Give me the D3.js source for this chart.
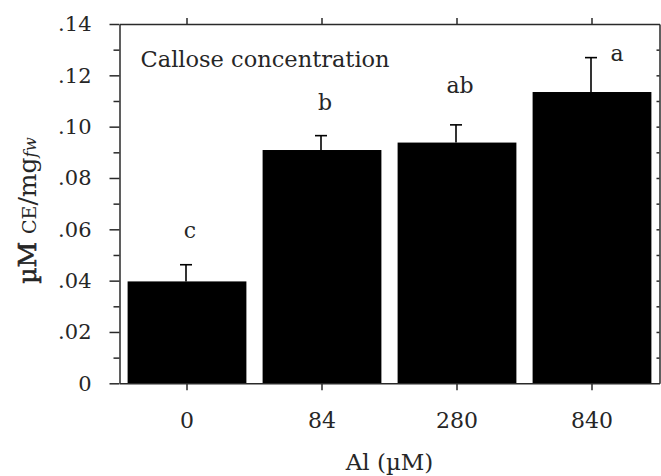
<!DOCTYPE html>
<html>
<head>
<meta charset="utf-8">
<script src="https://cdn.jsdelivr.net/npm/d3@7"></script>
<style>
  body { margin: 0; background: #fff; }
  text { font-family: "DejaVu Serif", serif; fill: #262626; }
</style>
</head>
<body>
<div id="chart"></div>
<script>
// 数据：Al 处理浓度与胼胝质含量（均值 + 误差）
const categories = ['0', '84', '280', '840'];
const means = [0.0397, 0.0909, 0.0938, 0.1135];
const errors = [0.0065, 0.0056, 0.0069, 0.0134];
// 显著性字母及其基线所在的数值高度
const letters = ['c', 'b', 'ab', 'a'];
const letterAt = [0.0567, 0.1065, 0.1130, 0.1256];
// y 轴刻度
const yMajor = [0, 0.02, 0.04, 0.06, 0.08, 0.10, 0.12, 0.14];
const yLabels = ['0', '.02', '.04', '.06', '.08', '.10', '.12', '.14'];
const yMinor = [0.01, 0.03, 0.05, 0.07, 0.09, 0.11, 0.13];
const yAll = [0.01, 0.02, 0.03, 0.04, 0.05, 0.06, 0.07, 0.08, 0.09, 0.10, 0.11, 0.12, 0.13];

const W = 661, H = 476;
const margin = { top: 24, right: 1.5, bottom: 92.7, left: 119.5 };
const width = W - margin.left - margin.right;
const height = H - margin.top - margin.bottom;

const svg = d3.select('#chart')
  .append('svg')
  .attr('width', W)
  .attr('height', H);

const g = svg.append('g')
  .attr('transform', `translate(${margin.left},${margin.top})`);

const x = d3.scaleBand()
  .domain(categories)
  .range([0, width])
  .paddingInner(0.12)
  .paddingOuter(0.06);

const y = d3.scaleLinear()
  .domain([0, 0.14])
  .range([height, 0]);

const axisColor = '#2a2a2a';

// 柱子
g.selectAll('rect.bar')
  .data(means)
  .enter()
  .append('rect')
    .attr('class', 'bar')
    .attr('x', (d, i) => x(categories[i]))
    .attr('y', d => y(d))
    .attr('width', x.bandwidth())
    .attr('height', d => height - y(d))
    .attr('fill', '#000');

// 误差线（只画上半部分）
const cap = 6;
means.forEach((m, i) => {
  const cx = x(categories[i]) + x.bandwidth() / 2 - 1;
  g.append('line')
    .attr('x1', cx).attr('x2', cx)
    .attr('y1', y(m)).attr('y2', y(m + errors[i]))
    .attr('stroke', '#000').attr('stroke-width', 1.6);
  g.append('line')
    .attr('x1', cx - cap).attr('x2', cx + cap)
    .attr('y1', y(m + errors[i])).attr('y2', y(m + errors[i]))
    .attr('stroke', '#000').attr('stroke-width', 1.6);
});

// 显著性字母
letters.forEach((t, i) => {
  const cx = x(categories[i]) + x.bandwidth() / 2;
  // 字母低于误差线顶端时放到误差线右侧
  const beside = letterAt[i] < means[i] + errors[i];
  g.append('text')
    .attr('x', cx + (beside ? 25 : 3))
    .attr('y', y(letterAt[i]))
    .attr('text-anchor', 'middle')
    .style('font-size', '22px')
    .text(t);
});

// 图内标题
g.append('text')
  .attr('x', 21)
  .attr('y', 67 - margin.top)
  .style('font-size', '22.5px')
  .text('Callose concentration');

function styleAxis(sel) {
  sel.select('.domain').attr('stroke', axisColor).attr('stroke-width', 1.5);
  sel.selectAll('.tick line').attr('stroke', axisColor).attr('stroke-width', 1.5);
}

// 左轴：主刻度 + 标签
const leftAxis = g.append('g')
  .call(d3.axisLeft(y).tickValues(yMajor).tickSize(10).tickSizeOuter(0)
    .tickPadding(18).tickFormat((d, i) => yLabels[i]));
styleAxis(leftAxis);
leftAxis.selectAll('text').style('font-size', '21px').attr('fill', '#262626');

// 左轴：次刻度
const leftMinor = g.append('g')
  .call(d3.axisLeft(y).tickValues(yMinor).tickSize(6).tickFormat(''));
styleAxis(leftMinor);
leftMinor.select('.domain').remove();

// 右轴：向内短刻度
const rightAxis = g.append('g')
  .attr('transform', `translate(${width},0)`)
  .call(d3.axisLeft(y).tickValues(yAll).tickSize(3).tickSizeOuter(0).tickFormat(''));
styleAxis(rightAxis);

// 底轴
const bottomAxis = g.append('g')
  .attr('transform', `translate(0,${height})`)
  .call(d3.axisBottom(x).tickSize(7).tickSizeOuter(0).tickPadding(22));
styleAxis(bottomAxis);
bottomAxis.selectAll('text').style('font-size', '22px').attr('fill', '#262626');

// 顶轴
const topAxis = g.append('g')
  .call(d3.axisTop(x).tickSize(6).tickSizeOuter(0).tickFormat(''));
styleAxis(topAxis);

// x 轴标题
g.append('text')
  .attr('x', width / 2)
  .attr('y', 470 - margin.top)
  .attr('text-anchor', 'middle')
  .style('font-size', '23px')
  .text('Al (\u00b5M)');

// y 轴标题
const yTitle = svg.append('text')
  .attr('transform', 'translate(36,210.5) rotate(-90)')
  .attr('text-anchor', 'middle')
  .style('font-size', '25px');
yTitle.append('tspan').attr('stroke', '#262626').attr('stroke-width', 0.6).text('\u00b5M ');
yTitle.append('tspan').style('font-size', '19px').text('CE');
yTitle.append('tspan').text('/mg');
yTitle.append('tspan').style('font-size', '16.5px').style('font-style', 'italic').text('fw');
</script>
</body>
</html>
